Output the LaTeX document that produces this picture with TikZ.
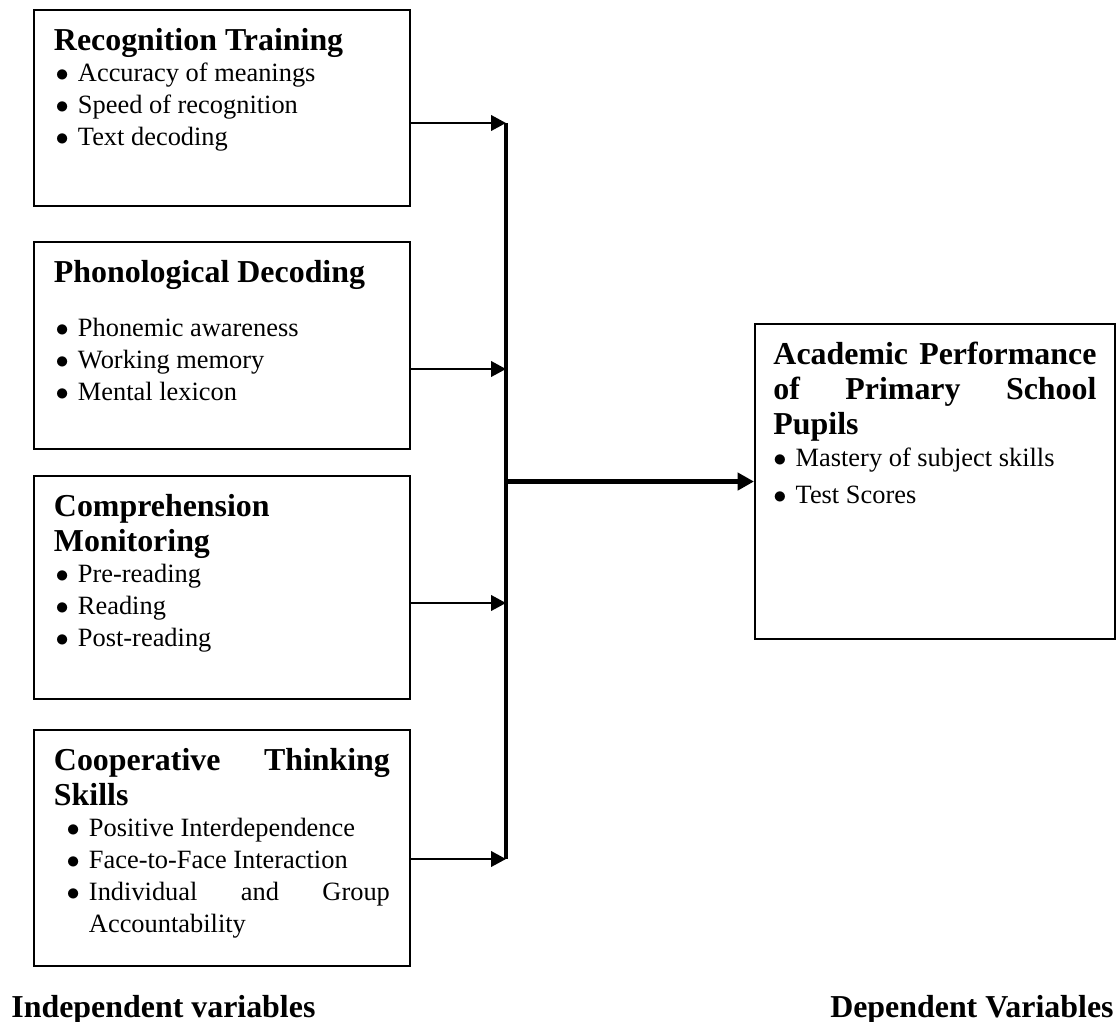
\documentclass[tikz,border=0pt]{standalone}
\usepackage{fontspec}
\setmainfont{Liberation Serif}
\usepackage{tikz}
\usetikzlibrary{positioning, arrows.meta}

\hyphenpenalty=10000
\exhyphenpenalty=10000
\tolerance=10000
\hbadness=10000

\newcommand{\bodyfont}{\fontsize{12}{14.4}\selectfont\spaceskip=0.25em plus 2em minus 0.05em\relax}
\newcommand{\vtitle}[1]{\noindent{\fontsize{14.5}{16}\selectfont\bfseries\spaceskip=0.25em plus 2em minus 0.05em\relax\rule{0pt}{18.2pt}#1\par}}
\newcommand{\bitem}[2][0.8pt]{\noindent\hangindent=\dimexpr#1+10.1pt\relax\hangafter=1\hspace*{#1}\makebox[10.1pt][l]{$\bullet$}#2\par}

\tikzset{
  varbox/.style={rectangle, draw=black, line width=0.9pt, anchor=north west, inner xsep=9.09pt, inner ysep=0pt, font=\bodyfont},
  arrow/.style={line width=1.2pt, -{Triangle[length=6.8pt,width=7pt]}},
  mainarrow/.style={line width=1.9pt, -{Triangle[length=7.5pt,width=7.8pt]}},
  bar/.style={line width=1.4pt},
  lbl/.style={font=\fontsize{14.5}{16}\selectfont\bfseries, inner sep=0pt}
}

\begin{document}
\begin{tikzpicture}[x=0.45455pt, y=-0.45455pt]
    \useasboundingbox (0,0) rectangle (1116,1021);

    % Variables independientes
    \node (recog) [varbox] at (33,9) {\parbox[c][89.1pt][t]{152.7pt}{%
        \vtitle{Recognition Training}
        \bitem{Accuracy of meanings}
        \bitem{Speed of recognition}
        \bitem{Text decoding}}};
    \node (phono) [varbox, below=15.5pt of recog] {\parbox[c][94.1pt][t]{152.7pt}{%
        \vtitle{Phonological Decoding}
        \vspace{10.5pt}
        \bitem{Phonemic awareness}
        \bitem{Working memory}
        \bitem{Mental lexicon}}};
    \node (compr) [varbox, below=11.3pt of phono] {\parbox[c][101.4pt][t]{152.7pt}{%
        \vtitle{Comprehension Monitoring}
        \bitem{Pre-reading}
        \bitem{Reading}
        \bitem{Post-reading}}};
    \node (coop) [varbox, below=13.2pt of compr] {\parbox[c][107.3pt][t]{152.7pt}{%
        \vtitle{Cooperative Thinking Skills}
        \bitem[5.8pt]{Positive Interdependence}
        \bitem[5.8pt]{Face-to-Face Interaction}
        \bitem[5.8pt]{Individual and Group Accountability}}};

    % Variable dependiente
    \node (acad) [varbox, inner xsep=8.4pt] at (754,323) {\parbox[c][143.2pt][t]{146.8pt}{%
        \vtitle{Academic Performance of Primary School Pupils}
        \bitem[0pt]{Mastery of subject skills}
        \vspace{2.4pt}
        \bitem[0pt]{Test Scores}}};

    % Puntos sobre la barra vertical
    \coordinate (j1) at (506,123);
    \coordinate (j2) at (506,369);
    \coordinate (j3) at (506,603);
    \coordinate (j4) at (506,859);
    \coordinate (jm) at (j1 |- acad.west);

    % Conexiones
    \draw [bar] (j1) -- (j4);
    \draw [arrow] (recog.east |- j1) -- (j1);
    \draw [arrow] (phono.east |- j2) -- (j2);
    \draw [arrow] (compr.east |- j3) -- (j3);
    \draw [arrow] (coop.east |- j4) -- (j4);
    \draw [mainarrow] (jm) -- (acad.west);

    % Rotulos inferiores
    \node (indep) [lbl, anchor=base west] at (11,1017) {Independent variables};
    \node (dep) [lbl, anchor=base east] at (1114,1017) {Dependent Variables};
\end{tikzpicture}
\end{document}
